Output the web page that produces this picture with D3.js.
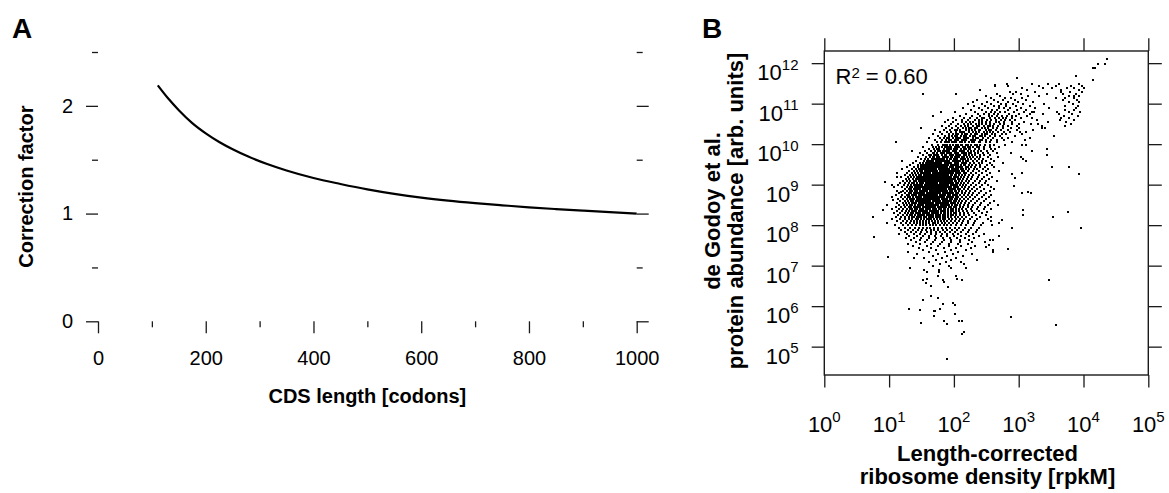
<!DOCTYPE html>
<html>
<head>
<meta charset="utf-8">
<script src="https://cdn.jsdelivr.net/npm/d3@7"></script>
<style>
  html, body { margin: 0; padding: 0; background: #fff; }
  svg text { font-family: "Liberation Sans", Arial, Helvetica, sans-serif; fill: #000; }
</style>
</head>
<body>
<svg id="fig" width="1169" height="493"></svg>
<script>
// ---------- Panel A: length correction factor ----------
const lengthCodons     = [111, 130, 150, 175, 200, 225, 250, 280, 314, 350, 400, 450, 500, 550, 600, 650, 700, 750, 800, 850, 900, 950, 1000];
const correctionFactor = [2.19, 2.07, 1.96, 1.84, 1.745, 1.665, 1.597, 1.527, 1.46, 1.40, 1.33, 1.275, 1.225, 1.183, 1.148, 1.12, 1.097, 1.077, 1.058, 1.042, 1.027, 1.013, 1.00];
const lengthTicks      = [0, 200, 400, 600, 800, 1000];
const lengthMinorTicks = [100, 300, 500, 700, 900];
const factorTicks      = [0, 1, 2];
const factorMinorTicks = [0.5, 1.5, 2.5];

// ---------- Panel B: abundance vs. ribosome density ----------
// Exponents (log10) of the tick labels
const densityExponents   = [0, 1, 2, 3, 4, 5];
const abundanceExponents = [5, 6, 7, 8, 9, 10, 11, 12];
const rSquared = "0.60";

// Genes, in hundredths of log10 units.
// Rows: [log10 abundance, [log10 ribosome density, ...]]
const highAbundanceRows = [
  [1210, [436]],
  [1200, [423, 433]],
  [1190, [415, 417]],
  [1170, [388]],
  [1165, [297]],
  [1160, [414]],
  [1150, [282, 320, 345, 362, 393]],
  [1145, [263, 284, 331, 358, 380, 398]],
  [1140, [305, 337, 351, 374, 386, 401]],
  [1135, [241, 313, 366, 393]],
  [1130, [286, 296, 325, 379, 397, 366]],
  [1125, [153, 204, 266, 291, 303, 343, 369, 388]],
  [1120, [249, 271, 314, 331, 378, 386, 393]],
  [1115, [258, 279, 288, 305, 357, 372, 385]],
  [1110, [236, 262, 276, 294, 311, 368, 390]],
  [1105, [229, 251, 268, 283, 299, 322, 377, 393]],
  [1100, [221, 244, 257, 273, 281, 291, 306, 339, 384]],
  [1095, [231, 248, 262, 269, 281, 296, 318, 371, 392]],
  [1090, [214, 238, 253, 269, 277, 287, 304, 325, 347, 388]],
  [1085, [226, 243, 259, 266, 283, 298, 311, 372, 386]],
  [1080, [180, 202, 233, 249, 257, 264, 271, 279, 292, 308, 320, 324, 359, 377, 395]],
  [1075, [219, 237, 246, 254, 262, 268, 285, 301, 317, 338, 362, 382]],
  [1070, [167, 209, 228, 241, 254, 259, 266, 274, 282, 289, 296, 313, 370, 391]],
  [1065, [198, 216, 225, 236, 243, 247, 256, 263, 269, 275, 281, 290, 303, 321, 366, 378]],
  [1060, [191, 204, 213, 221, 232, 238, 244, 251, 258, 265, 272, 279, 286, 294, 329, 364, 386]],
  [1055, [186, 199, 213, 219, 225, 229, 238, 243, 249, 256, 265, 270, 277, 289, 308, 345, 373]],
  [1050, [195, 207, 215, 221, 226, 234, 239, 243, 250, 256, 262, 271, 278, 290, 301, 319, 330, 381]],
  [1045, [182, 193, 203, 211, 217, 222, 230, 235, 238, 247, 252, 255, 260, 268, 276, 283, 297, 336, 372]],
  [1040, [149, 188, 197, 206, 214, 219, 223, 227, 232, 235, 244, 248, 252, 261, 266, 276, 288, 301, 336, 341]],
  [1035, [171, 185, 194, 201, 205, 210, 218, 224, 228, 233, 238, 241, 249, 254, 258, 265, 272, 284, 297, 322]],
  [1030, [178, 189, 196, 204, 209, 213, 216, 223, 229, 234, 238, 246, 251, 256, 261, 268, 278, 286, 302, 311]],
  [1025, [167, 181, 192, 199, 203, 206, 212, 217, 220, 227, 232, 236, 243, 248, 251, 259, 264, 274, 281, 305]],
  [1020, [175, 186, 193, 197, 201, 205, 211, 215, 218, 225, 230, 232, 240, 244, 248, 255, 263, 271, 295, 355]],
  [1015, [162, 178, 184, 190, 193, 198, 203, 206, 209, 215, 218, 221, 229, 234, 237, 245, 252, 261, 274, 283, 317]],
  [1010, [171, 182, 188, 192, 195, 201, 204, 207, 212, 215, 219, 226, 229, 233, 240, 244, 250, 257, 266, 278, 310]],
  [1005, [110, 158, 174, 180, 186, 189, 192, 197, 200, 204, 210, 213, 217, 224, 228, 231, 238, 241, 249, 255, 266, 290]],
  [1000, [166, 176, 183, 186, 189, 194, 199, 203, 206, 211, 213, 218, 222, 227, 232, 236, 241, 248, 255, 262, 279, 305, 312]],
  [995,  [152, 168, 173, 177, 181, 187, 190, 192, 196, 202, 205, 208, 214, 217, 221, 225, 229, 235, 238, 246, 255, 270]],
  [990,  [161, 170, 174, 177, 184, 189, 193, 195, 200, 203, 205, 211, 215, 218, 223, 225, 233, 239, 247, 258, 263, 344]],
  [985,  [156, 164, 171, 175, 178, 183, 187, 190, 193, 198, 201, 204, 209, 213, 216, 222, 226, 231, 237, 242, 251, 260, 321]],
  [980,  [147, 159, 167, 170, 174, 180, 182, 185, 190, 193, 196, 201, 203, 206, 212, 215, 219, 223, 227, 233, 237, 245, 252, 266, 288]],
  [975,  [153, 162, 165, 169, 172, 176, 182, 186, 188, 194, 197, 199, 204, 207, 210, 215, 219, 224, 228, 233, 240, 246, 256, 344]],
  [970,  [144, 157, 163, 167, 170, 174, 177, 183, 185, 188, 191, 195, 197, 202, 205, 208, 213, 216, 220, 225, 229, 235, 241, 252, 268, 304]],
  [965,  [150, 156, 160, 166, 169, 173, 176, 179, 182, 185, 189, 194, 196, 200, 203, 205, 211, 214, 217, 222, 226, 232, 238, 245, 257]],
  [960,  [120, 142, 154, 158, 161, 165, 168, 172, 175, 178, 181, 183, 187, 190, 193, 198, 200, 203, 206, 209, 214, 218, 222, 229, 235, 243, 249, 262, 311]],
  [955,  [137, 148, 153, 157, 160, 163, 166, 169, 172, 175, 177, 180, 186, 188, 190, 193, 196, 201, 204, 207, 212, 216, 219, 225, 231, 238, 244, 256, 275]],
  [950,  [132, 145, 149, 152, 156, 159, 162, 165, 168, 171, 174, 176, 179, 181, 185, 188, 191, 195, 198, 200, 203, 206, 211, 215, 217, 223, 228, 234, 240, 251, 259]]
];

const coreRows = [
  [945, [128, 139, 144, 149, 153, 156, 159, 162, 164, 168, 171, 173, 176, 179, 182, 185, 187, 190, 194, 196, 199, 203, 206, 209, 213, 218, 221, 227, 233, 241, 248, 262]],
  [940, [120, 135, 141, 146, 150, 152, 156, 158, 161, 165, 167, 170, 173, 177, 180, 183, 186, 188, 191, 193, 197, 200, 204, 207, 211, 214, 219, 224, 231, 236, 245, 253]],
  [935, [131, 138, 143, 147, 151, 155, 157, 160, 163, 166, 169, 172, 174, 178, 181, 184, 186, 189, 192, 195, 198, 202, 205, 208, 212, 216, 222, 229, 238, 249, 270]],
  [930, [112, 127, 136, 140, 145, 149, 152, 155, 158, 161, 163, 167, 170, 172, 175, 178, 181, 183, 187, 190, 193, 196, 199, 203, 206, 210, 215, 219, 226, 234, 243, 256]],
  [925, [124, 133, 137, 142, 146, 150, 154, 157, 159, 162, 165, 168, 171, 174, 177, 179, 182, 185, 188, 191, 195, 197, 201, 204, 208, 213, 217, 223, 230, 239, 251]],
  [920, [118, 129, 134, 139, 143, 146, 149, 152, 156, 159, 162, 164, 167, 170, 173, 176, 178, 181, 184, 187, 190, 193, 196, 200, 203, 207, 211, 216, 221, 228, 237, 247, 259]],
  [915, [126, 131, 137, 141, 145, 148, 151, 154, 157, 160, 163, 166, 169, 172, 175, 177, 180, 183, 186, 189, 192, 195, 199, 202, 206, 209, 214, 220, 226, 235, 244, 254]],
  [910, [121, 128, 133, 138, 142, 146, 149, 153, 155, 158, 161, 164, 167, 170, 173, 176, 179, 182, 185, 188, 191, 194, 197, 201, 204, 208, 212, 218, 224, 232, 241, 250, 266]],
  [905, [117, 125, 131, 136, 139, 143, 147, 150, 153, 157, 160, 162, 165, 168, 171, 174, 178, 181, 184, 186, 190, 193, 196, 199, 203, 207, 211, 216, 222, 229, 239, 248]],
  [900, [114, 123, 129, 134, 138, 141, 145, 148, 151, 155, 158, 161, 164, 167, 169, 172, 176, 179, 182, 185, 188, 191, 195, 198, 201, 205, 209, 214, 219, 226, 234, 243, 252]],
  [895, [108, 120, 127, 132, 136, 140, 143, 146, 150, 153, 156, 159, 162, 165, 168, 171, 174, 177, 180, 183, 187, 190, 193, 196, 200, 203, 207, 212, 217, 224, 231, 240, 257]],
  [890, [125, 130, 134, 138, 142, 145, 148, 152, 155, 158, 161, 164, 167, 170, 173, 176, 179, 182, 185, 188, 192, 195, 198, 202, 206, 210, 215, 221, 228, 236, 246, 262]],
  [885, [112, 121, 128, 132, 136, 140, 143, 147, 150, 153, 156, 159, 163, 166, 169, 172, 175, 178, 181, 184, 187, 190, 194, 197, 201, 204, 208, 213, 219, 225, 233, 242, 255]],
  [880, [116, 124, 130, 134, 138, 141, 145, 148, 151, 154, 158, 161, 164, 167, 170, 173, 176, 179, 183, 186, 189, 192, 196, 199, 203, 207, 212, 217, 223, 230, 239, 249]],
  [875, [110, 120, 127, 131, 135, 139, 142, 146, 149, 152, 156, 159, 162, 165, 168, 171, 174, 178, 181, 184, 187, 191, 194, 198, 201, 205, 210, 215, 221, 228, 236, 247, 258]],
  [870, [104, 118, 125, 129, 133, 137, 141, 144, 147, 150, 154, 157, 160, 163, 166, 169, 173, 176, 179, 182, 185, 189, 192, 196, 199, 203, 207, 212, 218, 225, 233, 243, 254]],
  [865, [114, 122, 127, 132, 136, 139, 143, 146, 149, 152, 155, 158, 162, 165, 168, 171, 174, 177, 181, 184, 187, 190, 194, 197, 201, 205, 209, 215, 221, 229, 238, 250]],
  [860, [117, 124, 129, 134, 137, 141, 144, 148, 151, 154, 157, 160, 163, 167, 170, 173, 176, 179, 183, 186, 189, 193, 196, 200, 204, 208, 213, 219, 226, 235, 246, 262]],
  [855, [112, 121, 126, 131, 135, 139, 142, 146, 149, 152, 156, 159, 162, 165, 168, 172, 175, 178, 181, 185, 188, 191, 195, 198, 202, 206, 211, 217, 224, 232, 242, 255]],
  [850, [97, 116, 123, 128, 133, 136, 140, 144, 147, 150, 153, 157, 160, 163, 166, 170, 173, 176, 180, 183, 186, 190, 193, 197, 201, 205, 210, 216, 222, 230, 240, 252, 268]],
  [845, [110, 119, 125, 130, 134, 138, 141, 145, 148, 152, 155, 158, 161, 165, 168, 171, 175, 178, 181, 185, 188, 192, 196, 200, 204, 209, 214, 221, 228, 237, 248]],
  [840, [104, 115, 122, 128, 132, 136, 140, 143, 147, 150, 153, 157, 160, 163, 167, 170, 173, 177, 180, 184, 187, 191, 195, 199, 203, 208, 213, 219, 227, 235, 246, 258]],
  [835, [112, 120, 126, 131, 135, 139, 142, 146, 149, 153, 156, 159, 163, 166, 170, 173, 176, 180, 183, 187, 191, 195, 199, 203, 208, 214, 220, 228, 238]],
  [830, [108, 117, 124, 129, 134, 137, 141, 145, 148, 152, 155, 159, 162, 166, 169, 173, 176, 180, 184, 187, 191, 195, 200, 204, 209, 215, 222, 231, 243]],
  [825, [114, 121, 127, 132, 136, 140, 144, 147, 151, 154, 158, 161, 165, 168, 172, 175, 179, 183, 187, 191, 195, 199, 204, 210, 216, 224, 234, 249]],
  [820, [110, 119, 125, 130, 135, 139, 143, 146, 150, 154, 157, 161, 164, 168, 172, 175, 179, 183, 187, 191, 196, 201, 206, 212, 219, 228, 240, 258]]
];

const lowAbundanceRows = [
  [815, [104, 117, 124, 131, 136, 141, 145, 149, 154, 158, 162, 165, 170, 174, 178, 183, 187, 192, 197, 203, 209, 216, 225, 236]],
  [810, [112, 121, 128, 134, 139, 143, 148, 152, 157, 161, 166, 171, 175, 180, 185, 190, 195, 201, 208, 214, 222, 233]],
  [805, [96, 118, 126, 132, 138, 143, 147, 152, 157, 162, 167, 171, 176, 181, 187, 192, 198, 205, 212, 221, 231, 245]],
  [800, [109, 121, 129, 136, 141, 147, 152, 157, 163, 168, 173, 178, 184, 190, 196, 203, 211, 219, 229, 242]],
  [795, [116, 125, 133, 140, 146, 152, 158, 163, 169, 175, 181, 188, 194, 201, 208, 217, 227, 238]],
  [790, [119, 129, 137, 144, 151, 157, 164, 170, 176, 183, 190, 197, 205, 214, 224, 236]],
  [785, [124, 134, 142, 150, 158, 165, 172, 179, 186, 194, 202, 211, 222, 234]],
  [780, [115, 128, 139, 148, 156, 164, 173, 181, 189, 198, 207, 218, 230, 247]],
  [775, [131, 143, 153, 162, 171, 180, 190, 200, 211, 224, 239]],
  [770, [126, 138, 150, 161, 172, 183, 194, 205, 217, 231]],
  [765, [134, 147, 159, 171, 184, 196, 209, 224]],
  [760, [141, 155, 168, 181, 195, 210, 228]],
  [755, [129, 148, 164, 178, 193, 207, 222]],
  [750, [137, 158, 176, 192, 211, 233]],
  [745, [146, 165, 184, 204, 226]],
  [740, [152, 173, 196, 219]],
  [735, [129, 161, 186, 207]],
  [730, [143, 176, 199, 228]],
  [725, [167, 189, 214]],
  [720, [139, 154, 181, 203]],
  [715, [172, 195, 236]],
  [710, [162, 188, 211]],
  [705, [178, 216]],
  [700, [168, 193]],
  [695, [195, 219]],
  [690, [154, 177]],
  [685, [159, 177]],
  [675, [175, 203]]
];

// Isolated genes: [log10 ribosome density, log10 abundance], hundredths
const scatteredGenes = [
  [263, 1146], [136, 983], [93, 908], [105, 901], [112, 919], [106, 862], [90, 838], [118, 883],
  [75, 820], [76, 772], [99, 723], [133, 694],
  [351, 944], [378, 944], [393, 927], [320, 984], [307, 965], [305, 930], [289, 927], [294, 918],
  [292, 897], [305, 881], [315, 883], [319, 881], [307, 839], [307, 827], [376, 834], [353, 821],
  [396, 794], [289, 793], [274, 813], [270, 805], [258, 811], [259, 801], [252, 815], [251, 834],
  [270, 774], [261, 764], [256, 764], [254, 753], [248, 760], [249, 747], [261, 739], [261, 735],
  [283, 741], [346, 665], [288, 574], [357, 554],
  [130, 595], [148, 591], [150, 560], [152, 617], [164, 625], [169, 589], [171, 589], [170, 576],
  [176, 620], [179, 593], [183, 607], [184, 565], [189, 558], [190, 470], [199, 609], [201, 603],
  [202, 581], [208, 565], [212, 564], [212, 532], [215, 536], [191, 647], [183, 665], [185, 661],
  [165, 650], [157, 658], [153, 665], [159, 669], [205, 669], [213, 665]
];

// ---------- drawing ----------
const svg = d3.select("#fig");
const ink = "#1a1a1a";

// Panel A
const ax = d3.scaleLinear().domain([0, 1000]).range([98, 636.7]);
const ay = d3.scaleLinear().domain([0, 2.5]).range([321.3, 52]);
const gA = svg.append("g");

function styleAxis(g, fontSize) {
  g.select(".domain").remove();
  g.selectAll(".tick line").attr("stroke", ink).attr("stroke-width", 1.3);
  g.selectAll("text").attr("font-size", fontSize).attr("font-family", null).attr("fill", "#000");
  g.attr("font-family", null);
}

gA.append("g").attr("transform", `translate(${ax(0)},0)`)
  .call(d3.axisLeft(ay).tickValues(factorTicks).tickSize(12).tickPadding(13).tickFormat(d3.format("d")))
  .call(g => styleAxis(g, 20));
gA.append("g").attr("transform", `translate(${ax(0)},0)`)
  .call(d3.axisLeft(ay).tickValues(factorMinorTicks).tickSize(6).tickFormat(""))
  .call(g => styleAxis(g, 20));
gA.append("g").attr("transform", `translate(${ax(1000)},0)`)
  .call(d3.axisRight(ay).tickValues(factorTicks).tickSize(12).tickFormat(""))
  .call(g => styleAxis(g, 20));
gA.append("g").attr("transform", `translate(${ax(1000)},0)`)
  .call(d3.axisRight(ay).tickValues(factorMinorTicks).tickSize(6).tickFormat(""))
  .call(g => styleAxis(g, 20));
gA.append("g").attr("transform", `translate(0,${ay(0)})`)
  .call(d3.axisBottom(ax).tickValues(lengthTicks).tickSize(12).tickPadding(17.5).tickFormat(d3.format("d")))
  .call(g => styleAxis(g, 20));
gA.append("g").attr("transform", `translate(0,${ay(0)})`)
  .call(d3.axisBottom(ax).tickValues(lengthMinorTicks).tickSize(6).tickFormat(""))
  .call(g => styleAxis(g, 20));

const curve = lengthCodons.map((L, i) => [L, correctionFactor[i]]);
gA.append("path")
  .datum(curve)
  .attr("fill", "none")
  .attr("stroke", "#000")
  .attr("stroke-width", 2.2)
  .attr("d", d3.line().x(d => ax(d[0])).y(d => ay(d[1])).curve(d3.curveMonotoneX));

gA.append("text").attr("x", (ax(0) + ax(1000)) / 2).attr("y", 402.5)
  .attr("text-anchor", "middle").attr("font-size", 20).attr("font-weight", "bold")
  .text("CDS length [codons]");
gA.append("text").attr("transform", `translate(33,${(ay(0) + ay(2.5)) / 2}) rotate(-90)`)
  .attr("text-anchor", "middle").attr("font-size", 20).attr("font-weight", "bold")
  .text("Correction factor");
gA.append("text").attr("x", 12).attr("y", 38.3)
  .attr("font-size", 28).attr("font-weight", "bold").text("A");

// Panel B
const bx = d3.scaleLog().domain([1, 1e5]).range([824.3, 1148.3]);
const by = d3.scaleLog().domain([Math.pow(10, 4.3), Math.pow(10, 12.3)]).range([375, 51]);
const gB = svg.append("g");
const xTickVals = densityExponents.map(e => Math.pow(10, e));
const yTickVals = abundanceExponents.map(e => Math.pow(10, e));

// genes
const genes = [];
[highAbundanceRows, coreRows, lowAbundanceRows].forEach(rows =>
  rows.forEach(([la, xs]) => xs.forEach(ld => genes.push([ld, la]))));
scatteredGenes.forEach(p => genes.push(p));

// 2px dots snapped to the pixel grid
gB.append("g").attr("shape-rendering", "crispEdges")
  .selectAll("rect").data(genes).join("rect")
  .attr("x", d => Math.round(bx(Math.pow(10, d[0] / 100))) - 1)
  .attr("y", d => Math.round(by(Math.pow(10, d[1] / 100)) + 0.35) - 1)
  .attr("width", 2).attr("height", 2)
  .attr("fill", "#000");

// frame and ticks
gB.append("rect")
  .attr("x", bx(1)).attr("y", by(Math.pow(10, 12.3)))
  .attr("width", bx(1e5) - bx(1)).attr("height", by(Math.pow(10, 4.3)) - by(Math.pow(10, 12.3)))
  .attr("fill", "none").attr("stroke", ink).attr("stroke-width", 1.4);

gB.append("g").attr("transform", `translate(0,${by(Math.pow(10, 4.3))})`)
  .call(d3.axisBottom(bx).tickValues(xTickVals).tickSize(12.5).tickFormat(""))
  .call(g => styleAxis(g, 22));
gB.append("g").attr("transform", `translate(0,${by(Math.pow(10, 12.3))})`)
  .call(d3.axisTop(bx).tickValues(xTickVals).tickSize(12.7).tickFormat(""))
  .call(g => styleAxis(g, 22));
gB.append("g").attr("transform", `translate(${bx(1)},0)`)
  .call(d3.axisLeft(by).tickValues(yTickVals).tickSize(12.6).tickFormat(""))
  .call(g => styleAxis(g, 22));
gB.append("g").attr("transform", `translate(${bx(1e5)},0)`)
  .call(d3.axisRight(by).tickValues(yTickVals).tickSize(13.5).tickFormat(""))
  .call(g => styleAxis(g, 22));

// power-of-ten tick labels
densityExponents.forEach(e => {
  const t = gB.append("text").attr("x", bx(Math.pow(10, e))).attr("y", 431.7)
    .attr("text-anchor", "middle").attr("font-size", 22);
  t.append("tspan").text("10");
  t.append("tspan").attr("dy", -10).attr("font-size", 15).text(e);
});
abundanceExponents.forEach(e => {
  const t = gB.append("text").attr("x", 798.5).attr("y", by(Math.pow(10, e)) + 17)
    .attr("text-anchor", "end").attr("font-size", 22);
  t.append("tspan").text("10");
  t.append("tspan").attr("dy", -10.5).attr("font-size", 15).text(e);
});

// R squared
const r2 = gB.append("text").attr("x", 835.5).attr("y", 84).attr("font-size", 22);
r2.append("tspan").text("R");
r2.append("tspan").attr("dy", -6.5).attr("font-size", 15).text("2");
r2.append("tspan").attr("dy", 6.5).text(" = " + rSquared);

// axis titles
const bxTitle = gB.append("text").attr("text-anchor", "middle").attr("font-size", 22).attr("font-weight", "bold");
bxTitle.append("tspan").attr("x", 987.5).attr("y", 460.8).text("Length-corrected");
bxTitle.append("tspan").attr("x", 987.5).attr("y", 484).text("ribosome density [rpkM]");

const byTitle = gB.append("text").attr("transform", "translate(720,211) rotate(-90)")
  .attr("text-anchor", "middle").attr("font-size", 22).attr("font-weight", "bold");
byTitle.append("tspan").attr("x", 0).attr("y", 0).text("de Godoy et al.");
byTitle.append("tspan").attr("x", 0).attr("y", 23).text("protein abundance [arb. units]");

gB.append("text").attr("x", 702).attr("y", 38.3)
  .attr("font-size", 28).attr("font-weight", "bold").text("B");
</script>
</body>
</html>
